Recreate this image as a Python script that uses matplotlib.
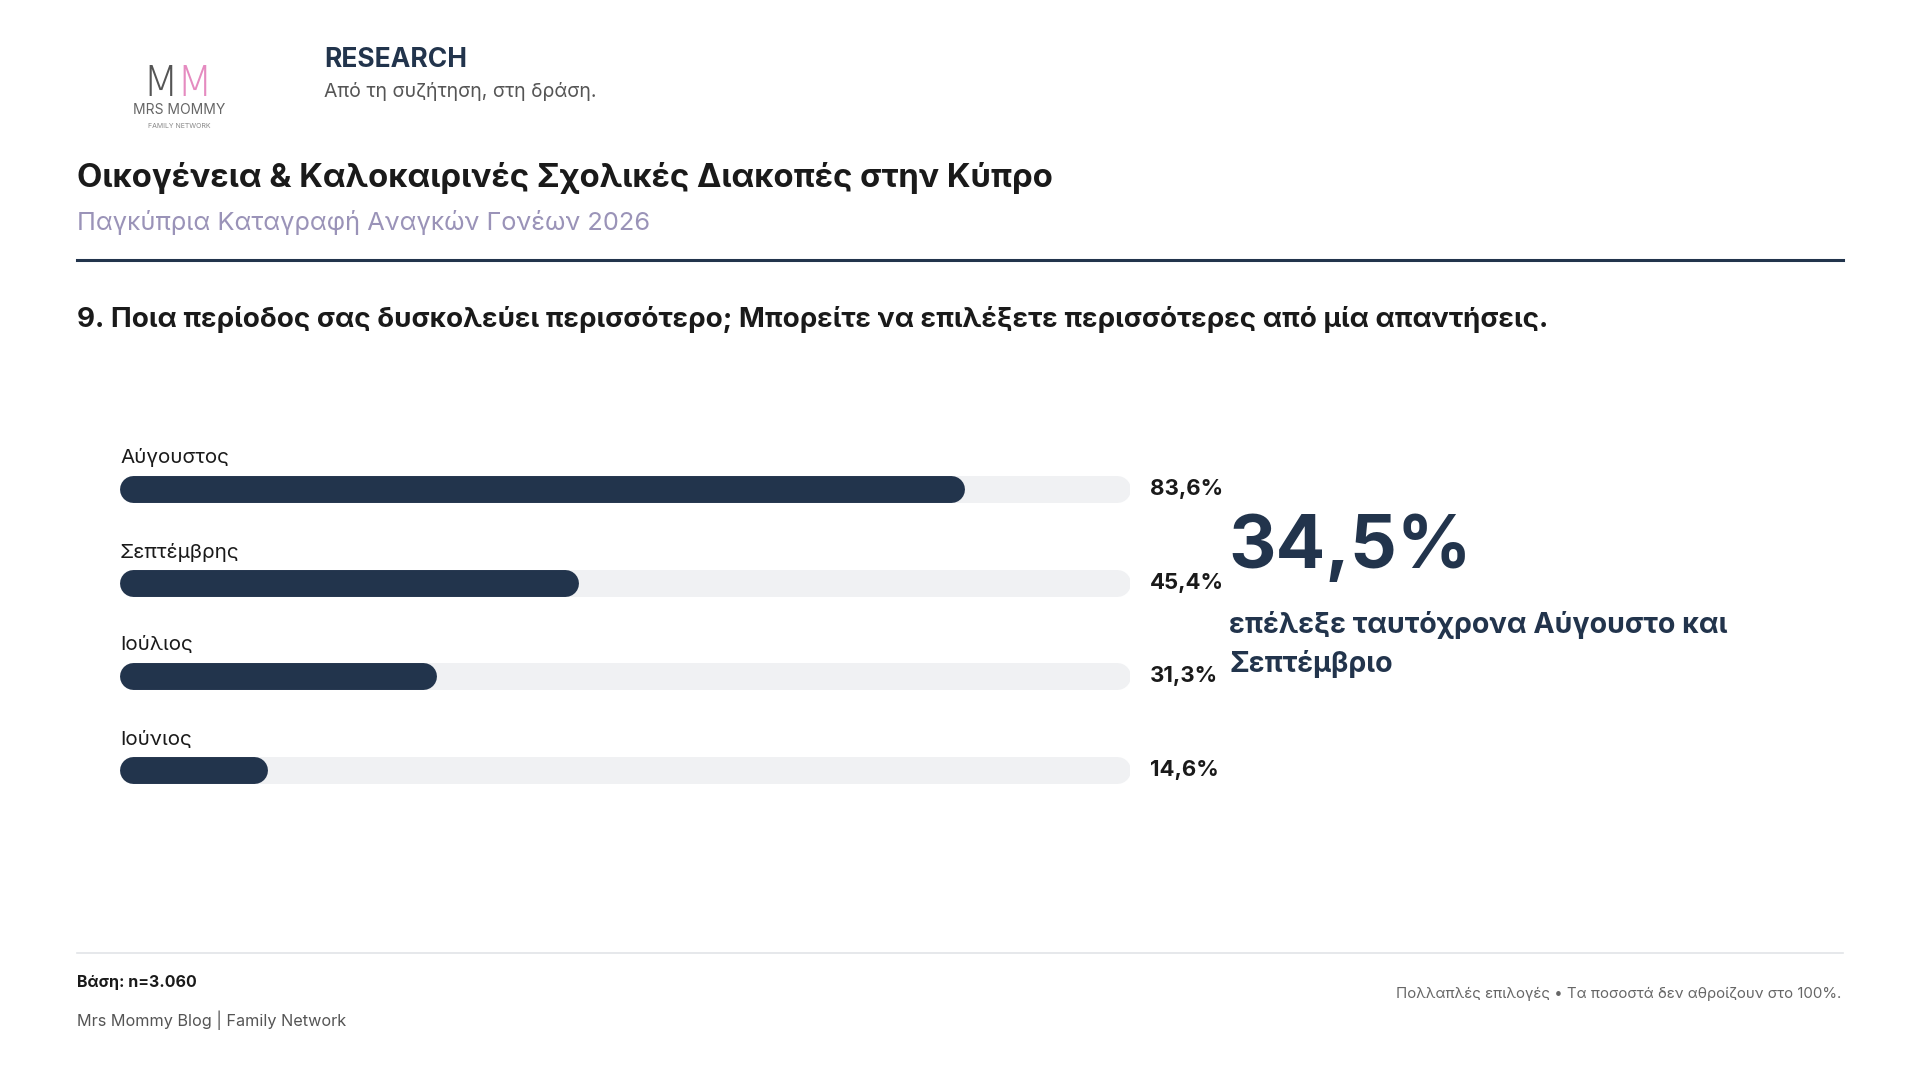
import matplotlib.pyplot as plt
from matplotlib.lines import Line2D

plt.rcParams['font.family'] = ['Inter', 'DejaVu Sans']

categories = ['Αύγουστος', 'Σεπτέμβρης', 'Ιούλιος', 'Ιούνιος']
values = [83.6, 45.4, 31.3, 14.6]
value_labels = ['83,6%', '45,4%', '31,3%', '14,6%']
highlight = '34,5%'
highlight_text = 'επέλεξε ταυτόχρονα Αύγουστο και\nΣεπτέμβριο'

W, H = 1568, 882
NAVY = '#22344c'
TRACK = '#f0f1f3'

fig = plt.figure(figsize=(19.2, 10.8), dpi=100)

def fx(x):
    return x / W

def fy(y):
    return 1 - y / H

def txt(x, y, s, **kw):
    fig.text(fx(x), fy(y), s, **kw)

# logo
txt(146, 68, 'M', ha='right', va='center', fontsize=30, color='#555', family='DejaVu Sans', weight='light')
txt(144, 68, 'M', ha='left', va='center', fontsize=30, color='#e58bc0', family='DejaVu Sans', weight='light')
txt(146, 90, 'MRS MOMMY', ha='center', va='center', fontsize=10, color='#666')
txt(146, 103, 'FAMILY NETWORK', ha='center', va='center', fontsize=5, color='#888')

txt(265, 49, 'RESEARCH', ha='left', va='center', fontsize=19, weight='bold', color=NAVY)
txt(265, 75, 'Από τη συζήτηση, στη δράση.', ha='left', va='center', fontsize=14, color='#555')

txt(63, 145, 'Οικογένεια & Καλοκαιρινές Σχολικές Διακοπές στην Κύπρο', ha='left', va='center',
    fontsize=23.7, weight='bold', color='#1a1a1a')
txt(63, 182, 'Παγκύπρια Καταγραφή Αναγκών Γονέων 2026', ha='left', va='center',
    fontsize=18.3, color='#9a93b8')
fig.add_artist(Line2D([fx(63), fx(1505)], [fy(212), fy(212)], color=NAVY, lw=2.2))

txt(63, 261, '9. Ποια περίοδος σας δυσκολεύει περισσότερο; Μπορείτε να επιλέξετε περισσότερες από μία απαντήσεις.',
    ha='left', va='center', fontsize=20, weight='bold', color='#1a1a1a')

# bars
bar_y = [399, 476, 552, 629]
ax = fig.add_axes([fx(98), fy(660), fx(923) - fx(98), (660 - 360) / H])
ax.set_xlim(0, 100)
ax.set_ylim(660, 360)
ax.axis('off')
lw = 22 * 1920 / W * 72 / 100
r = 11 / 825 * 100
for cat, v, lab, y in zip(categories, values, value_labels, bar_y):
    ax.plot([r, 100 - r], [y, y], color=TRACK, lw=lw, solid_capstyle='round')
    ax.plot([r, v - r], [y, y], color=NAVY, lw=lw, solid_capstyle='round')
    txt(98, y - 25, cat, ha='left', va='center', fontsize=14.8, color='#1a1a1a')
    txt(939, y, lab, ha='left', va='center', fontsize=16, weight='bold', color='#1a1a1a')

txt(1003, 448, highlight, ha='left', va='center', fontsize=53, weight='bold', color=NAVY)
txt(1004, 526, highlight_text, ha='left', va='center', fontsize=20.5, weight='bold',
    color=NAVY, linespacing=1.5)

# footer
fig.add_artist(Line2D([fx(63), fx(1505)], [fy(778), fy(778)], color='#e2e4e8', lw=1.2))
txt(63, 802, 'Βάση: n=3.060', ha='left', va='center', fontsize=11.5, weight='bold', color='#1a1a1a')
txt(63, 833, 'Mrs Mommy Blog | Family Network', ha='left', va='center', fontsize=11.7, color='#555')
txt(1504, 812, 'Πολλαπλές επιλογές • Τα ποσοστά δεν αθροίζουν στο 100%.', ha='right', va='center',
    fontsize=10.8, color='#666')

fig.savefig('out.png', dpi=100, facecolor='white')
